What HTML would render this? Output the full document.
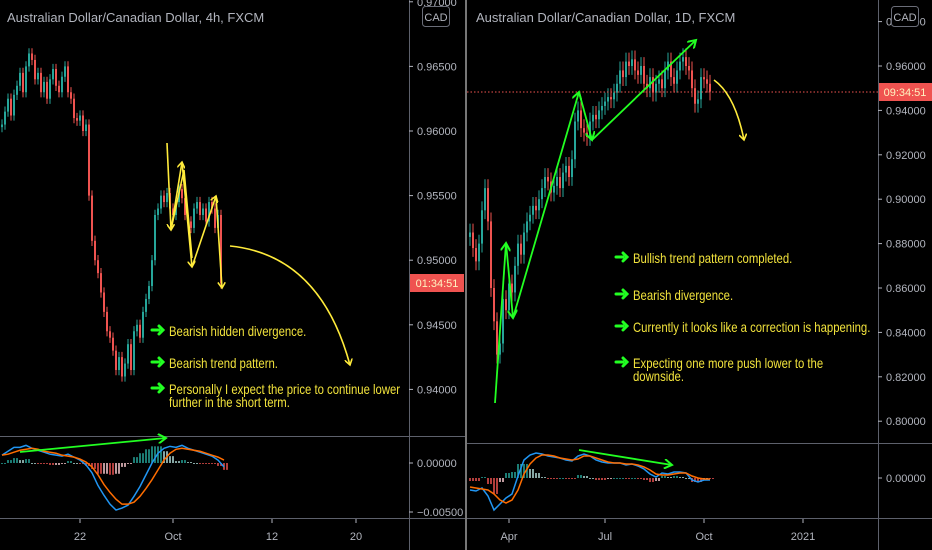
<!DOCTYPE html>
<html><head><meta charset="utf-8">
<style>
html,body{margin:0;padding:0;background:#000;}
svg{display:block;}
text{font-family:"Liberation Sans",sans-serif;}
.ax{fill:#b2b5be;font-size:11px;}
.ann{fill:#f2e33c;font-family:"Liberation Sans",sans-serif;font-size:13.5px;}
</style></head>
<body>
<svg id="chart" width="932" height="550" viewBox="0 0 932 550">
<rect x="0" y="0" width="932" height="550" fill="#000"/>
<g id="grid">
 <line x1="409.5" y1="0" x2="409.5" y2="550" stroke="#5d606b"/>
 <line x1="0" y1="436.5" x2="466" y2="436.5" stroke="#5d606b"/>
 <line x1="0" y1="518.5" x2="466" y2="518.5" stroke="#5d606b"/>
 <line x1="466" y1="0" x2="466" y2="550" stroke="#777" stroke-width="2"/>
 <line x1="878.5" y1="0" x2="878.5" y2="550" stroke="#5d606b"/>
 <line x1="467" y1="443.5" x2="932" y2="443.5" stroke="#5d606b"/>
 <line x1="467" y1="518.5" x2="932" y2="518.5" stroke="#5d606b"/>
</g>
<text x="7" y="22" fill="#b2b5be" font-size="13">Australian Dollar/Canadian Dollar, 4h, FXCM</text>
<text x="476" y="22" fill="#b2b5be" font-size="13">Australian Dollar/Canadian Dollar, 1D, FXCM</text>
<g id="lc"></g>
<g id="rc"></g>
<g id="lm"></g>
<g id="rm"></g>
<g id="laxis"></g>
<g id="raxis"></g>
<g id="taxis"></g>
<line x1="467" y1="92" x2="878" y2="92" stroke="#ef5350" stroke-dasharray="1.5,2"/>
<rect x="422.5" y="6.5" width="27" height="20" rx="3" fill="#000" stroke="#6a6d78"/>
<text x="436" y="21" class="ax" text-anchor="middle" font-size="12">CAD</text>
<rect x="891.5" y="6.5" width="27" height="20" rx="3" fill="#000" stroke="#6a6d78"/>
<text x="905" y="21" class="ax" text-anchor="middle" font-size="12">CAD</text>
<rect x="410" y="274" width="54" height="18" fill="#ef5350"/>
<text x="437" y="287" fill="#fff3c0" font-size="11" text-anchor="middle">01:34:51</text>
<rect x="879" y="83" width="53" height="18" fill="#ef5350"/>
<text x="905" y="96" fill="#fff3c0" font-size="11" text-anchor="middle">09:34:51</text>
<defs>
 <marker id="ya" markerWidth="8" markerHeight="8" refX="6" refY="4" orient="auto" markerUnits="userSpaceOnUse"><path d="M0,0 L6,4 L0,8" fill="none" stroke="#ffeb3b" stroke-width="1.6"/></marker>
 <marker id="ga" markerWidth="10" markerHeight="10" refX="8" refY="5" orient="auto" markerUnits="userSpaceOnUse"><path d="M0,0 L8,5 L0,10" fill="none" stroke="#22ff22" stroke-width="2"/></marker>
</defs>
<g fill="none" stroke="#ffeb3b" stroke-width="1.6">
 <polyline points="167,143 171,230" marker-end="url(#ya)"/>
 <polyline points="171,230 182,162" marker-end="url(#ya)"/>
 <polyline points="182,162 192,267" marker-end="url(#ya)"/>
 <polyline points="192,267 216,196" marker-end="url(#ya)"/>
 <polyline points="216,196 222,288" marker-end="url(#ya)"/>
 <polyline points="172,225 184,170 192,258"/>
 <path d="M230,246 Q320,255 350,365" marker-end="url(#ya)"/>
 <path d="M714,80 Q735,95 744,140" marker-end="url(#ya)"/>
</g>
<g fill="none" stroke="#22ff22" stroke-width="1.8">
 <polyline points="495,403 506,243" marker-end="url(#ga)"/>
 <polyline points="506,243 513,318" marker-end="url(#ga)"/>
 <polyline points="513,318 579,92" marker-end="url(#ga)"/>
 <polyline points="579,92 592,140" marker-end="url(#ga)"/>
 <polyline points="592,140 696,40" marker-end="url(#ga)"/>
 <polyline points="20,452 166,438" marker-end="url(#ga)"/>
 <polyline points="579,450 672,465" marker-end="url(#ga)"/>
</g>
<g id="notes"></g>
</svg>
<script>
// ---------- data ----------
const leftCloses = [0.9605,0.9615,0.9625,0.9612,0.9628,0.9635,0.9645,0.9630,0.9650,0.9660,
0.9655,0.9640,0.9645,0.9630,0.9638,0.9625,0.9640,0.9648,0.9635,0.9630,
0.9642,0.9650,0.9630,0.9625,0.9610,0.9608,0.9612,0.9600,0.9605,0.9550,
0.9515,0.9500,0.9490,0.9475,0.9460,0.9445,0.9440,0.9430,0.9415,0.9425,
0.9410,0.9420,0.9435,0.9415,0.9445,0.9450,0.9440,0.9460,0.9470,0.9480,
0.9500,0.9535,0.9540,0.9550,0.9545,0.9552,0.9540,0.9535,0.9545,0.9555,
0.9548,0.9535,0.9530,0.9525,0.9540,0.9545,0.9535,0.9540,0.9530,0.9545,
0.9540,0.9525,0.9535,0.9482];
const rightCloses = [0.885,0.878,0.872,0.880,0.895,0.905,0.890,0.860,0.845,0.830,
0.835,0.855,0.850,0.862,0.858,0.870,0.880,0.875,0.885,0.890,
0.893,0.897,0.895,0.900,0.905,0.910,0.908,0.903,0.906,0.910,
0.905,0.912,0.915,0.910,0.918,0.935,0.940,0.932,0.930,0.928,
0.935,0.938,0.936,0.940,0.942,0.944,0.946,0.945,0.948,0.952,
0.958,0.955,0.962,0.960,0.963,0.958,0.956,0.960,0.952,0.950,
0.955,0.948,0.952,0.954,0.950,0.958,0.962,0.955,0.952,0.958,
0.962,0.964,0.960,0.958,0.950,0.943,0.945,0.955,0.954,0.952,0.9485];
const leftMacd = [0.8,1.2,1.6,1.6,1.8,1.5,1.3,1.1,0.9,0.8,0.7,0.9,0.6,0.3,-0.2,-1.0,-2.3,-3.3,-4.2,-4.8,-4.6,-4.3,-3.4,-2.4,-1.2,0.0,1.0,1.5,1.7,1.6,1.8,1.5,1.3,1.1,0.9,0.7,0.3,-0.4];
const leftSignal = [0.8,0.9,1.1,1.3,1.4,1.5,1.4,1.2,1.1,1.0,0.8,0.7,0.6,0.4,0.1,-0.4,-1.2,-2.2,-3.0,-3.7,-4.2,-4.2,-4.0,-3.4,-2.6,-1.7,-0.7,0.3,1.0,1.4,1.5,1.4,1.3,1.2,1.0,0.8,0.6,0.3];
const rightMacd = [-1.2,-1.3,-1.0,-1.8,-3.2,-2.6,-2.0,-1.6,0.2,1.8,2.3,2.5,2.4,2.2,2.1,2.0,1.8,1.7,2.2,2.4,2.2,1.8,1.6,1.5,1.5,1.5,1.3,1.4,1.2,0.9,0.4,0.1,0.5,0.4,0.6,0.6,0.5,-0.2,-0.4,-0.2,-0.2];
const rightSignal = [-0.9,-1.0,-1.1,-1.2,-1.6,-2.2,-2.5,-2.2,-1.2,0.4,1.4,2.0,2.3,2.3,2.2,2.0,1.9,1.8,1.9,2.2,2.2,2.0,1.8,1.6,1.5,1.5,1.4,1.4,1.3,1.1,0.8,0.4,0.3,0.3,0.4,0.5,0.5,0.2,0.0,-0.1,-0.1];
const leftPriceTicks = ["0.97000","0.96500","0.96000","0.95500","0.95000","0.94500","0.94000"];
const leftPriceTickVals = [0.970,0.965,0.960,0.955,0.950,0.945,0.940];
const rightPriceTicks = ["0.98000","0.96000","0.94000","0.92000","0.90000","0.88000","0.86000","0.84000","0.82000","0.80000"];
const rightPriceTickVals = [0.98,0.96,0.94,0.92,0.90,0.88,0.86,0.84,0.82,0.80];
const leftTimeLabels = ["22","Oct","12","20"];
const leftTimeIdx = [26,57,90,118];
const rightTimeLabels = ["Apr","Jul","Oct","2021"];
const rightTimeIdx = [13,45,78,111];
const leftNotes = [["Bearish hidden divergence."],["Bearish trend pattern."],["Personally I expect the price to continue lower","further in the short term."]];
const rightNotes = [["Bullish trend pattern completed."],["Bearish divergence."],["Currently it looks like a correction is happening."],["Expecting one more push lower to the","downside."]];

// ---------- scales ----------
const NS="http://www.w3.org/2000/svg";
const lx = i => 2 + 3*i;
const ly = p => 131 + (0.960 - p)/0.005*64.6;
const rx = i => 470 + 3*i;
const ry = p => 66 + (0.96 - p)/0.02*44.4;
const lmy = v => 463 - v*9.8;
const rmy = v => 478 - v*10;
function mk(tag, attrs, parent){const e=document.createElementNS(NS,tag);for(const k in attrs)e.setAttribute(k,attrs[k]);parent.appendChild(e);return e;}

function candles(closes, xf, yf, wick, gid, name){
  const g=document.getElementById(gid);
  for(let i=0;i<closes.length;i++){
    const c=closes[i], o=i?closes[i-1]:c-wick*0.5;
    const up=c>=o, col=up?"#26a69a":"#ef5350";
    const x=xf(i);
    const w=mk("line",{x1:x,x2:x,y1:yf(Math.max(o,c)+wick),y2:yf(Math.min(o,c)-wick),stroke:col,"stroke-width":1},g);
    
    
    const top=yf(Math.max(o,c)), bot=yf(Math.min(o,c));
    const b=mk("rect",{x:x-1,y:top,width:2,height:Math.max(1,bot-top),fill:col},g);
    
    
  }
}
candles(leftCloses,lx,ly,0.0004,"lc","left-candle");
candles(rightCloses,rx,ry,0.004,"rc","right-candle");

function macd(m,s,xf,yf,gid,prefix){
  const g=document.getElementById(gid);
  for(let j=0;j<m.length;j++){
    const h=m[j]-s[j]; const x=xf(2*j);
    const prev=j?m[j-1]-s[j-1]:h;
    const col=h>=0?(h>=prev?"#26a69a":"#b2dfdb"):(h<=prev?"#ef5350":"#ffcdd2");
    for(const dx of [0,3]){
      const r=mk("line",{x1:x+dx,x2:x+dx,y1:yf(0),y2:yf(h)+(h===0?1:0),stroke:col,"stroke-width":1.5},g);
      
      
    }
  }
  const pts=a=>a.map((v,j)=>xf(2*j)+","+yf(v)).join(" ");
  const l1=mk("polyline",{points:pts(m),fill:"none",stroke:"#2196f3","stroke-width":1.5},g);
  
  
  const l2=mk("polyline",{points:pts(s),fill:"none",stroke:"#ff6d00","stroke-width":1.5},g);
  
  
}
macd(leftMacd,leftSignal,lx,lmy,"lm","left");
macd(rightMacd,rightSignal,rx,rmy,"rm","right");

function yaxis(labels,vals,yf,x0,gid){
  const g=document.getElementById(gid);
  labels.forEach((t,i)=>{
    const y=yf(vals[i]);
    const tk=mk("line",{x1:x0,x2:x0+4,y1:y,y2:y,stroke:"#b2b5be"},g);
    
    
    const e=mk("text",{x:x0+8,y:y+4,"class":"ax"},g); e.textContent=t;
    
    
  });
}
yaxis(leftPriceTicks,leftPriceTickVals,ly,409,"laxis");
yaxis(rightPriceTicks,rightPriceTickVals,ry,878,"raxis");
yaxis(["0.00000","\u22120.00500"],[0,-5],lmy,409,"laxis");
yaxis(["0.00000"],[0],rmy,878,"raxis");

const ta=document.getElementById("taxis");
function xlabels(labels,idx,xf){
  labels.forEach((t,i)=>{
    const x=xf(idx[i]);
    const tk=mk("line",{x1:x,x2:x,y1:519,y2:523,stroke:"#b2b5be"},ta);
    
    
    const e=mk("text",{x:x,y:540,"class":"ax","text-anchor":"middle"},ta); e.textContent=t;
    
    
  });
}
xlabels(leftTimeLabels,leftTimeIdx,lx);
xlabels(rightTimeLabels,rightTimeIdx,rx);

const ng=document.getElementById("notes");
function notes(list,ys,xt){
  list.forEach((lines,i)=>{
    const y=ys[i];
    const a=mk("path",{d:`M${xt-17},${y-1} h7 M${xt-10},${y-5} l4,4 l-4,4`,stroke:"#22ff22","stroke-width":3,fill:"none","stroke-linecap":"round"},ng);
    
    
    lines.forEach((ln,k)=>{
      const e=mk("text",{x:0,y:0,"class":"ann",transform:`translate(${xt},${y+5+k*13}) scale(0.84,1)`},ng); e.textContent=ln;
      
      
    });
  });
}
notes(leftNotes,[331,363,389],169);
notes(rightNotes,[258,295,327,363],633);
</script>
</body></html>
